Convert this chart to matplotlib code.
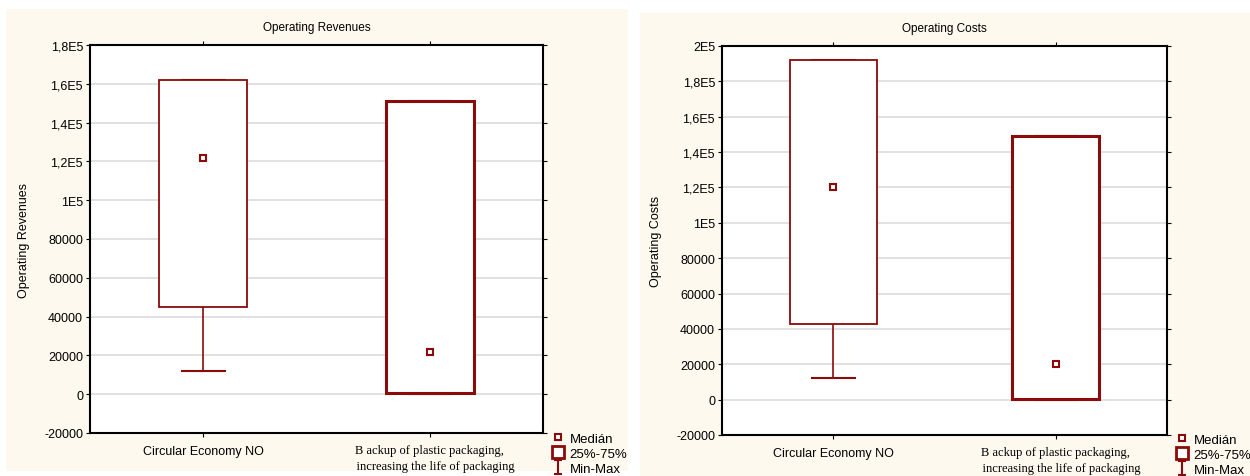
import matplotlib
matplotlib.use("Agg")
import matplotlib.pyplot as plt
from matplotlib.lines import Line2D
from matplotlib.path import Path
from matplotlib.patches import Rectangle

# data
categories = ["Circular Economy NO",
              "B ackup of plastic packaging,\n    increasing the life of packaging"]

rev_min = [12000, 0]
rev_q1 = [45000, 800]
rev_med = [122000, 21500]
rev_q3 = [162000, 151000]
rev_max = [162000, 151000]

cost_min = [12000, 0]
cost_q1 = [43000, 400]
cost_med = [120000, 20000]
cost_q3 = [192000, 149000]
cost_max = [192000, 149000]

rev_ticks = [-20000, 0, 20000, 40000, 60000, 80000, 100000, 120000, 140000, 160000, 180000]
rev_labels = ["-20000", "0", "20000", "40000", "60000", "80000", "1E5", "1,2E5", "1,4E5", "1,6E5", "1,8E5"]
cost_ticks = [-20000, 0, 20000, 40000, 60000, 80000, 100000, 120000, 140000, 160000, 180000, 200000]
cost_labels = ["-20000", "0", "20000", "40000", "60000", "80000", "1E5", "1,2E5", "1,4E5", "1,6E5", "1,8E5", "2E5"]

RED = "#8b0a0a"
BG = "#fdf9ef"
plt.rcParams["font.family"] = ["Liberation Sans", "DejaVu Sans"]

W, H = 1250, 477
fig = plt.figure(figsize=(12.5, 4.77), dpi=100)
fig.patch.set_facecolor("white")

# cream panel backgrounds
fig.patches.append(Rectangle((6 / W, 1 - 472 / H), 622 / W, 462 / H, transform=fig.transFigure,
                             facecolor=BG, edgecolor="none", zorder=-5))
fig.patches.append(Rectangle((640 / W, 0), 610 / W, 1 - 14 / H, transform=fig.transFigure,
                             facecolor=BG, edgecolor="none", zorder=-5))

minmax_marker = Path([(-0.6, -1), (0.6, -1), (0, -1), (0, 1), (-0.6, 1), (0.6, 1)],
                     [Path.MOVETO, Path.LINETO, Path.MOVETO, Path.LINETO, Path.MOVETO, Path.LINETO])


def draw_panel(rect, title, ylabel, mn, q1, med, q3, mx, ticks, labels, ylim, legend_pos):
    ax = fig.add_axes(rect, zorder=2)
    ax.set_facecolor("white")
    x = [0, 1]
    widths = [1.3, 2.2]
    for i in x:
        ax.vlines(i, mn[i], q1[i], color=RED, lw=1.2, zorder=2)
        ax.vlines(i, q3[i], mx[i], color=RED, lw=1.2, zorder=2)
        ax.hlines([mn[i], mx[i]], i - 0.1, i + 0.1, color=RED, lw=1.5, zorder=2)
        ax.bar(i, q3[i] - q1[i], bottom=q1[i], width=0.39, facecolor="white",
               edgecolor=RED, lw=widths[i], zorder=3)
    ax.plot(x, med, ls="none", marker="s", ms=4.5, mfc="white", mec=RED, mew=1.5, zorder=4)

    ax.set_xlim(-0.5, 1.5)
    ax.set_ylim(*ylim)
    ax.set_yticks(ticks)
    ax.set_yticklabels(labels, fontsize=9)
    ax.set_xticks(x)
    ax.set_xticklabels([])
    ax.grid(axis="y", color="#dcdcdc", lw=1.2, zorder=0)
    ax.set_axisbelow(True)
    ax.tick_params(axis="y", direction="out", length=3, right=True, pad=2)
    ax.tick_params(axis="x", direction="out", length=3, top=True)
    for s in ax.spines.values():
        s.set_linewidth(1.5)
        s.set_color("black")

    ax.text(0, -0.03, categories[0], transform=ax.get_xaxis_transform(), ha="center", va="top", fontsize=9)
    ax.text(1, -0.028, categories[1], transform=ax.get_xaxis_transform(), ha="center", va="top",
            fontsize=9, family="Liberation Serif", linespacing=1.45)

    ax.set_title(title, fontsize=8.5, pad=11)
    ax.set_ylabel(ylabel, fontsize=9, labelpad=10)

    handles = [
        Line2D([], [], ls="none", marker="s", ms=4, mfc="white", mec=RED, mew=1.5),
        Line2D([], [], ls="none", marker="s", ms=9, mfc="white", mec=RED, mew=2),
        Line2D([], [], ls="none", marker=minmax_marker, ms=10, mec=RED, mew=1.5, mfc="none"),
    ]
    fig.legend(handles, ["Medián", "25%-75%", "Min-Max"], loc="upper left",
               bbox_to_anchor=legend_pos, frameon=False, fontsize=9.5, handlelength=1,
               handletextpad=0.35, labelspacing=0.2, borderpad=0)
    return ax


draw_panel([90 / W, 1 - 434 / H, 453 / W, 388 / H], "Operating Revenues", "Operating Revenues",
           rev_min, rev_q1, rev_med, rev_q3, rev_max, rev_ticks, rev_labels,
           (-20000, 180000), (545 / W, 1 - 427 / H))

draw_panel([722 / W, 1 - 436 / H, 445 / W, 389 / H], "Operating Costs", "Operating Costs",
           cost_min, cost_q1, cost_med, cost_q3, cost_max, cost_ticks, cost_labels,
           (-20000, 200000), (1169 / W, 1 - 428 / H))

fig.savefig("out.png", dpi=100)
